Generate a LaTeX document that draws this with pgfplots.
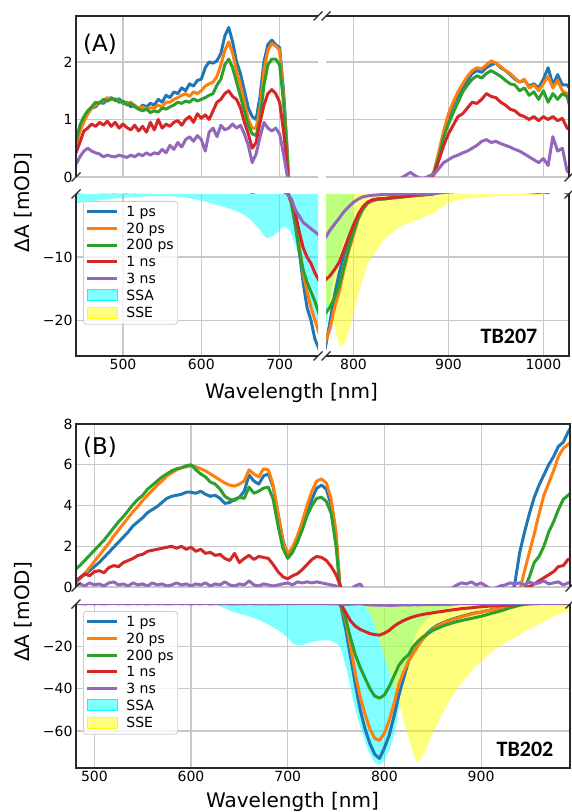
\documentclass[border=0pt]{standalone}
\usepackage{fontspec}
\setmainfont{DejaVu Sans}
\newfontfamily\carlito{Carlito}
\usepackage{pgfplots}
\usepackage{pgfplotstable}
\pgfplotsset{compat=1.18}

\definecolor{c1}{HTML}{1F77B4}
\definecolor{c2}{HTML}{FF7F0E}
\definecolor{c3}{HTML}{2CA02C}
\definecolor{c4}{HTML}{D62728}
\definecolor{c5}{HTML}{9467BD}
\definecolor{ssa}{RGB}{0,255,255}
\definecolor{sse}{RGB}{255,255,0}
\definecolor{gridc}{RGB}{200,200,200}
\definecolor{spinec}{RGB}{40,40,40}
\definecolor{legc}{RGB}{204,204,204}

% TB207 transient spectra
\pgfplotstableread{
x b o g r p
440 0.55 0.50 0.62 0.42 0.22
445 0.85 0.80 0.90 0.60 0.35
450 1.00 0.95 1.05 0.80 0.45
455 1.10 1.10 1.15 0.85 0.50
460 1.20 1.20 1.22 0.92 0.45
465 1.22 1.25 1.30 0.88 0.42
470 1.30 1.30 1.28 0.95 0.40
475 1.28 1.32 1.35 0.90 0.35
480 1.35 1.38 1.32 0.97 0.38
485 1.38 1.35 1.36 0.88 0.36
490 1.33 1.36 1.35 0.95 0.35
495 1.36 1.32 1.30 0.85 0.38
500 1.28 1.30 1.32 0.92 0.36
505 1.30 1.28 1.25 0.86 0.34
510 1.22 1.30 1.28 0.82 0.38
515 1.25 1.24 1.22 0.90 0.35
520 1.18 1.20 1.18 0.80 0.40
525 1.25 1.22 1.15 0.88 0.37
530 1.22 1.18 1.18 0.78 0.42
535 1.28 1.20 1.12 0.95 0.38
540 1.25 1.20 1.15 0.82 0.42
545 1.35 1.25 1.13 1.00 0.40
550 1.30 1.22 1.20 0.85 0.48
555 1.42 1.30 1.18 0.92 0.42
560 1.38 1.30 1.22 0.88 0.55
565 1.48 1.35 1.25 0.95 0.48
570 1.45 1.38 1.30 0.98 0.60
575 1.55 1.42 1.28 0.90 0.52
580 1.50 1.45 1.32 1.00 0.65
585 1.62 1.40 1.30 1.05 0.70
590 1.58 1.48 1.36 0.95 0.62
595 1.68 1.45 1.32 1.10 0.72
600 1.70 1.50 1.35 1.02 0.65
605 1.90 1.58 1.38 1.08 0.45
610 2.00 1.62 1.42 1.00 0.78
615 1.98 1.65 1.45 1.15 0.85
620 2.02 1.75 1.60 1.30 0.70
625 2.15 1.95 1.70 1.35 0.90
630 2.45 2.20 1.95 1.45 0.82
635 2.60 2.35 2.05 1.50 0.85
640 2.35 2.15 1.90 1.40 0.92
645 2.00 1.85 1.65 1.35 0.85
650 1.80 1.60 1.40 1.20 0.90
655 1.50 1.30 1.15 0.95 0.75
660 1.20 1.00 0.90 0.75 0.55
665 1.05 0.85 0.75 0.50 0.25
670 1.00 0.85 0.72 0.60 0.40
675 1.40 1.20 1.00 0.95 0.70
680 2.00 1.85 1.60 1.25 0.95
685 2.30 2.20 1.95 1.45 0.85
690 2.38 2.32 2.05 1.52 0.80
695 2.30 2.28 2.05 1.45 0.85
700 2.25 2.20 1.95 1.30 0.75
705 1.50 1.40 1.30 0.80 0.40
710 0.40 0.35 0.30 0.15 0.00
715 -1.5 -1.3 -1.3 -1.0 -0.8
720 -5.0 -4.0 -4.5 -3.0 -2.5
725 -9.0 -8.0 -9.0 -6.0 -3.5
730 -14.0 -12.5 -12.0 -8.5 -4.5
735 -18.0 -15.5 -14.0 -10.0 -5.0
740 -20.0 -18.0 -15.5 -11.0 -5.5
745 -23.0 -20.0 -17.0 -12.5 -6.0
750 -24.5 -21.9 -18.9 -13.7 -6.5
755 -26.0 -23.5 -19.5 -14.0 -7.0
760 -26.0 -24.0 -19.8 -14.0 -7.0
765 -25.5 -23.8 -19.5 -13.8 -7.0
770 -24.6 -23.5 -19.0 -13.7 -7.0
775 -20.5 -21.5 -18.0 -13.0 -5.8
780 -16.0 -18.0 -16.5 -12.0 -4.8
785 -12.5 -15.5 -14.5 -10.8 -3.8
790 -9.5 -12.0 -11.5 -8.8 -2.8
795 -7.0 -9.0 -8.5 -6.8 -2.0
800 -5.5 -6.5 -6.0 -4.9 -1.3
805 -3.5 -4.0 -3.8 -3.2 -0.8
810 -2.2 -2.4 -2.3 -2.0 -0.45
815 -1.3 -1.4 -1.4 -1.3 -0.30
820 -1.0 -1.1 -1.0 -0.9 -0.20
825 -0.8 -0.85 -0.85 -0.8 -0.15
830 -0.75 -0.8 -0.8 -0.75 -0.10
835 -0.7 -0.7 -0.75 -0.7 -0.10
840 -0.6 -0.65 -0.6 -0.6 -0.05
845 -0.55 -0.6 -0.55 -0.5 -0.05
850 -0.5 -0.5 -0.45 -0.45 -0.02
855 -0.4 -0.4 -0.4 -0.35 0.03
860 -0.3 -0.3 -0.3 -0.3 0.08
865 -0.25 -0.25 -0.2 -0.2 0.02
870 -0.2 -0.2 -0.15 -0.15 -0.02
875 -0.1 -0.1 -0.1 -0.1 -0.02
880 -0.05 -0.05 -0.05 -0.05 0.02
885 0.10 0.10 0.08 0.05 0.05
890 0.40 0.45 0.35 0.30 0.15
895 0.75 0.80 0.70 0.55 0.25
900 1.05 1.10 0.92 0.75 0.30
905 1.25 1.30 1.12 0.90 0.35
910 1.42 1.48 1.30 1.05 0.38
915 1.55 1.62 1.48 1.10 0.42
920 1.68 1.75 1.60 1.20 0.45
925 1.80 1.85 1.70 1.30 0.50
930 1.85 1.90 1.76 1.28 0.55
935 1.82 1.88 1.72 1.35 0.62
940 1.90 1.95 1.80 1.45 0.65
945 1.95 2.02 1.85 1.40 0.60
950 1.98 1.98 1.80 1.38 0.62
955 1.90 1.92 1.75 1.30 0.58
960 1.85 1.85 1.68 1.25 0.55
965 1.78 1.80 1.62 1.18 0.52
970 1.70 1.72 1.60 1.15 0.48
975 1.65 1.65 1.50 1.08 0.45
980 1.68 1.70 1.55 1.05 0.40
985 1.58 1.55 1.42 1.00 0.35
990 1.62 1.60 1.48 1.05 0.30
995 1.55 1.50 1.35 0.98 0.25
1000 1.70 1.62 1.50 1.05 0.32
1005 1.90 1.75 1.30 1.00 0.20
1010 1.60 1.55 1.45 1.05 0.70
1015 1.78 1.68 1.35 0.98 0.45
1020 1.60 1.50 1.45 1.02 0.50
1025 1.60 1.45 1.40 0.85 0.10
1030 1.50 1.40 1.10 0.80 0.05
}\dataA

\pgfplotstableread{
x y
440 0
440 -1.5
450 -1.3
460 -1.1
471 -1.0
490 -0.7
513 -0.5
535 -0.35
556 -0.3
577 -0.5
598 -1.0
620 -1.7
640 -2.5
650 -3.0
662 -3.9
675 -5.7
683 -7.0
691 -6.7
698 -6.0
705 -5.1
713 -5.7
721 -8.4
730 -13
740 -18
748 -22
755 -24
765 -23
771 -21
775 -17
780 -13
785 -9.5
790 -7.5
795 -6.2
800 -5.5
800.1 0
}\ssaA

\pgfplotstableread{
x y
771 0
771 -17
775 -19
779 -20
783 -23
786 -24.2
790 -23.8
794 -22.6
800 -19
805 -16
809 -14
815 -11
820 -9.8
825 -8.8
832 -7.2
839 -6.3
849 -5.2
858 -4.6
867 -4.1
875 -3.6
884 -3.1
890 -2.4
899 -1.5
910 -1.0
920 -0.7
935 -0.5
955 -0.3
975 -0.25
990 -0.2
1000 -0.15
1003 0
}\sseA

% TB202 transient spectra
\pgfplotstableread{
x b o g r p
480 0.30 0.25 0.85 0.20 0.10
485 0.45 0.40 1.05 0.45 0.15
490 0.60 0.65 1.30 0.65 0.05
495 0.80 0.95 1.55 0.55 0.20
500 1.00 1.25 1.80 0.75 0.10
505 1.20 1.55 2.05 0.80 0.15
510 1.45 1.85 2.30 0.70 0.05
515 1.70 2.15 2.60 0.95 0.20
520 1.95 2.50 2.90 1.05 0.25
525 2.20 2.80 3.20 1.00 0.10
530 2.45 3.10 3.45 1.20 0.15
535 2.70 3.40 3.75 1.30 0.05
540 3.00 3.70 4.05 1.40 0.20
545 3.20 3.95 4.30 1.55 0.10
550 3.40 4.25 4.50 1.60 0.15
555 3.65 4.50 4.80 1.75 0.05
560 3.80 4.75 5.00 1.80 0.20
565 3.95 5.00 5.20 1.85 0.10
570 4.15 5.20 5.40 1.90 0.15
575 4.35 5.45 5.55 1.95 0.05
580 4.45 5.60 5.70 2.00 0.10
585 4.50 5.75 5.80 1.90 0.20
590 4.55 5.85 5.85 2.00 0.10
595 4.65 5.90 5.95 1.85 0.15
600 4.65 5.95 6.00 1.95 0.05
605 4.60 5.90 5.75 1.75 0.15
610 4.70 5.80 5.55 1.85 0.10
615 4.55 5.70 5.40 1.65 0.20
620 4.45 5.55 5.15 1.70 0.05
625 4.50 5.40 5.05 1.55 0.15
630 4.35 5.25 4.80 1.60 0.10
635 4.10 5.10 4.45 1.40 0.25
640 4.15 5.00 4.30 1.30 0.10
645 4.30 4.95 4.25 1.65 0.05
650 4.40 5.05 4.40 1.20 0.15
655 4.70 5.20 4.35 1.40 0.10
660 5.50 5.75 4.90 1.55 0.30
665 5.20 5.55 4.60 1.35 0.10
670 5.05 5.40 4.70 1.50 0.05
675 5.45 5.80 4.85 1.45 0.15
680 5.55 5.75 4.90 1.40 0.10
685 4.90 5.00 4.30 1.10 0.05
690 3.60 3.60 3.00 0.75 0.10
695 2.30 2.20 1.90 0.50 0.15
700 1.55 1.65 1.40 0.40 0.20
705 1.80 1.95 1.70 0.55 0.10
710 2.30 2.50 2.20 0.65 0.25
715 2.90 3.20 2.80 0.85 0.20
720 3.60 4.00 3.50 1.10 0.25
725 4.30 4.70 4.00 1.35 0.20
730 4.85 5.20 4.35 1.50 0.25
735 5.00 5.30 4.40 1.45 0.20
740 4.80 5.10 4.20 1.30 0.15
745 4.00 4.30 3.60 1.00 0.10
750 2.50 2.70 2.00 0.60 0.05
755 -1.0 -0.5 -0.5 0.00 -0.10
760 -12.0 -8.0 -7.0 -4.0 -0.20
765 -25.0 -20.0 -16.0 -8.0 -0.10
770 -38.0 -33.0 -24.0 -10.5 0.05
775 -50.0 -44.0 -30.0 -12.0 0.15
780 -59.0 -52.0 -35.0 -13.0 -0.20
785 -66.0 -59.0 -40.0 -14.0 -0.40
790 -71.0 -63.5 -43.5 -14.5 -0.50
795 -73.0 -64.5 -44.5 -14.7 -0.60
800 -68.0 -61.0 -43.0 -13.8 -0.50
805 -62.0 -55.0 -39.0 -12.5 -0.70
810 -53.0 -47.0 -34.0 -10.5 -0.60
815 -43.0 -38.0 -29.0 -9.0 -0.50
820 -35.0 -32.0 -26.0 -7.8 -0.40
825 -27.0 -27.0 -24.0 -6.8 -0.50
830 -23.0 -23.0 -20.0 -6.0 -0.30
835 -19.5 -19.5 -17.5 -5.4 -0.40
840 -16.0 -16.5 -15.5 -4.9 -0.30
845 -13.5 -14.0 -14.0 -4.5 -0.20
850 -11.5 -12.0 -12.5 -4.2 -0.30
855 -10.0 -10.5 -11.5 -3.8 -0.20
860 -9.0 -9.3 -10.5 -3.5 -0.10
865 -8.0 -8.3 -9.7 -3.1 -0.20
870 -7.2 -7.5 -9.0 -2.8 -0.05
875 -6.5 -6.8 -8.3 -2.5 0.10
880 -5.8 -6.0 -7.8 -2.2 0.20
885 -5.2 -5.5 -7.3 -2.0 0.15
890 -4.6 -4.9 -6.8 -1.8 0.25
895 -4.1 -4.3 -6.3 -1.5 0.10
900 -3.8 -3.9 -5.8 -1.3 0.20
905 -3.3 -3.4 -5.2 -1.1 0.05
910 -2.8 -2.9 -4.5 -1.0 -0.10
915 -2.3 -2.4 -3.9 -0.9 -0.05
920 -1.9 -1.9 -3.3 -0.8 0.05
925 -1.4 -1.5 -2.6 -0.6 0.10
930 -0.8 -1.0 -1.8 -0.5 0.20
935 0.2 -0.6 -1.2 -0.4 0.15
940 1.7 -0.2 -0.6 -0.2 0.20
945 2.7 0.8 -0.1 -0.1 0.10
950 3.6 1.7 0.5 0.02 0.25
955 4.4 2.6 1.2 0.15 0.15
960 5.0 3.6 1.5 0.30 0.20
965 5.5 4.5 2.0 0.45 0.30
970 6.0 5.1 2.7 0.60 0.15
975 6.4 5.7 3.2 0.75 0.20
980 6.9 6.4 3.8 1.00 0.25
985 7.1 6.8 4.3 1.05 0.10
990 7.6 7.0 4.5 1.35 0.20
995 8.0 7.2 4.7 1.40 0.25
1000 8.2 7.3 4.8 1.45 0.20
}\dataB

\pgfplotstableread{
x y
600 0
620 0
626 -0.3
635 -2.0
643 -3.6
652 -4.8
661 -6.0
670 -7.5
678 -9.2
687 -11.5
695 -13.9
700 -16.0
705 -18.6
711 -19.6
716 -19.4
721 -18.5
726 -17.8
733 -17.3
737 -17.1
744 -17.2
750 -18.5
754 -20.0
758 -26.0
762 -33.0
766 -42.0
770 -50.0
775 -58.0
780 -65.0
785 -71.0
790 -75.0
795 -76.0
800 -74.0
805 -69.0
810 -62.0
813 -56.0
816 -45.0
820 -35.0
823 -28.0
827 -22.0
830 -17.0
835 -12.0
840 -9.0
850 -4.5
864 -2.0
880 -0.5
900 0
}\ssaB

\pgfplotstableread{
x y
778 0
785 -4
790 -10
795 -17
800 -25
805 -32
810 -40
816 -48
823 -60
830 -71
834 -75
840 -72
850 -61
860 -52
868 -45
877 -39
885 -34.5
893 -30
902 -26.5
910 -23
919 -20
928 -17.5
937 -15.5
945 -13
954 -11
962 -9
971 -6.8
980 -5
992 -2.8
1000 -2
1000 0
}\sseB

\pgfplotsset{
  panel/.style={
    scale only axis,
    axis line style={draw=none},
    grid=major,
    grid style={gridc, line width=1.1pt},
    major tick length=0pt,
    tick label style={font=\fontsize{14}{16}\selectfont},
    /pgf/number format/assume math mode=true,
    /pgf/number format/1000 sep={},
  },
  ln/.style={line width=3pt, line join=round},
  lowleg/.style={
    legend entries={\strut 1 ps,\strut 20 ps,\strut 200 ps,\strut 1 ns,\strut 3 ns,\strut SSA,\strut SSE},
    legend cell align=left,
    legend style={at={(0,1)}, anchor=north west, xshift=7pt, yshift=-7pt,
      draw=legc, line width=0.8pt, fill=white, fill opacity=0.8, text opacity=1,
      rounded corners=3pt, inner sep=2pt, nodes={inner sep=2pt}, row sep=0pt,
      font=\fontsize{14}{16}\selectfont},
    /tikz/every odd column/.append style={column sep=6pt},
    legend image code/.code={\path (0pt,-4.7pt); \draw[##1, line width=3pt, line cap=butt, sharp corners] (0pt,0pt) -- (30pt,0pt);},
  },
}

\newcommand{\curves}[1]{%
  \addplot[ln, c1] table[x=x, y=b] {#1};
  \addplot[ln, c2] table[x=x, y=o] {#1};
  \addplot[ln, c3] table[x=x, y=g] {#1};
  \addplot[ln, c4] table[x=x, y=r] {#1};
  \addplot[ln, c5] table[x=x, y=p] {#1};
}
\newcommand{\fillimages}{%
  \addlegendimage{legend image code/.code={\path (0pt,-8.9pt); \fill[ssa, fill opacity=0.5, sharp corners] (0pt,-5.5pt) rectangle (30pt,5.5pt);}}
  \addlegendimage{legend image code/.code={\path (0pt,-8.9pt); \fill[sse, fill opacity=0.5, sharp corners] (0pt,-5.5pt) rectangle (30pt,5.5pt);}}
}
\newcommand{\brk}[1]{\draw[spinec, line width=1.1pt] (#1) ++(-4.5pt,-4.5pt) -- ++(9pt,9pt);}

\begin{document}
\begin{tikzpicture}
\useasboundingbox (0pt,0pt) rectangle (571pt,812pt);

% ---------- (A) TB207 ----------
\begin{axis}[panel, name=AUL, at={(76pt,635pt)}, anchor=south west,
  width=242pt, height=161pt, xmin=440, xmax=749, ymin=0, ymax=2.8,
  xtick={500,600,700}, xticklabels={}, ytick={0,1,2}]
\curves{\dataA}
\end{axis}

\begin{axis}[panel, name=AUR, at={(326pt,635pt)}, anchor=south west,
  width=243pt, height=161pt, xmin=771, xmax=1027, ymin=0, ymax=2.8,
  xtick={800,900,1000}, xticklabels={}, ytick={0,1,2}, yticklabels={}]
\curves{\dataA}
\end{axis}

\begin{axis}[panel, lowleg, name=ALL, at={(76pt,456pt)}, anchor=south west,
  width=242pt, height=162pt, xmin=440, xmax=749, ymin=-25.7, ymax=0,
  xtick={500,600,700}, ytick={-20,-10}, yticklabels={−20,−10}]
\addplot[forget plot, draw=none, fill=ssa, fill opacity=0.5] table {\ssaA} \closedcycle;
\curves{\dataA}
\fillimages
\end{axis}

\begin{axis}[panel, name=ALR, at={(326pt,456pt)}, anchor=south west,
  width=243pt, height=162pt, xmin=771, xmax=1027, ymin=-25.7, ymax=0,
  xtick={800,900,1000}, ytick={-20,-10}, yticklabels={}]
\addplot[forget plot, draw=none, fill=ssa, fill opacity=0.5] table {\ssaA} \closedcycle;
\addplot[forget plot, draw=none, fill=sse, fill opacity=0.5] table {\sseA} \closedcycle;
\curves{\dataA}
\end{axis}

% ---------- (B) TB202 ----------
\begin{axis}[panel, name=BU, at={(76pt,225pt)}, anchor=south west,
  width=494pt, height=163pt, xmin=481, xmax=992, ymin=0, ymax=8,
  xtick={500,600,700,800,900}, xticklabels={}, ytick={0,2,4,6,8}]
\curves{\dataB}
\end{axis}

\begin{axis}[panel, lowleg, name=BL, at={(76pt,44pt)}, anchor=south west,
  width=494pt, height=164pt, xmin=481, xmax=992, ymin=-77.5, ymax=0,
  xtick={500,600,700,800,900}, ytick={-60,-40,-20}, yticklabels={−60,−40,−20}]
\addplot[forget plot, draw=none, fill=ssa, fill opacity=0.5] table {\ssaB} \closedcycle;
\addplot[forget plot, draw=none, fill=sse, fill opacity=0.5] table {\sseB} \closedcycle;
\curves{\dataB}
\fillimages
\end{axis}

% spines of the broken axes
\begin{scope}[spinec, line width=1.2pt]
\draw (AUL.south west) -- (AUL.north west) -- (AUL.north east);
\draw (AUR.north west) -- (AUR.north east) -- (AUR.south east);
\draw (ALL.north west) -- (ALL.south west) -- (ALL.south east);
\draw (ALR.south west) -- (ALR.south east) -- (ALR.north east);
\draw (BU.south west) -- (BU.north west) -- (BU.north east) -- (BU.south east);
\draw (BL.north west) -- (BL.south west) -- (BL.south east) -- (BL.north east);
\end{scope}

% break marks
\brk{AUL.south west}\brk{ALL.north west}
\brk{AUR.south east}\brk{ALR.north east}
\brk{AUL.north east}\brk{AUR.north west}
\brk{ALL.south east}\brk{ALR.south west}
\brk{BU.south west}\brk{BL.north west}
\brk{BU.south east}\brk{BL.north east}

% labels
\node[font=\fontsize{20}{24}\selectfont, anchor=base] at (291.5pt,413.5pt) {Wavelength [nm]};
\node[font=\fontsize{20}{24}\selectfont, anchor=base] at (292.5pt,5pt) {Wavelength [nm]};
\node[font=\fontsize{20}{24}\selectfont, rotate=90, anchor=base] at (29.5pt,609.5pt) {ΔA [mOD]};
\node[font=\fontsize{20}{24}\selectfont, rotate=90, anchor=base] at (29.5pt,200pt) {ΔA [mOD]};
\node[font=\fontsize{23}{26}\selectfont] at (100pt,768pt) {(A)};
\node[font=\fontsize{23}{26}\selectfont] at (100pt,365pt) {(B)};
\node[font=\carlito\bfseries\fontsize{22}{26}\selectfont] at (509pt,476pt) {TB207};
\node[font=\carlito\bfseries\fontsize{22}{26}\selectfont] at (525pt,63pt) {TB202};
\end{tikzpicture}
\end{document}
